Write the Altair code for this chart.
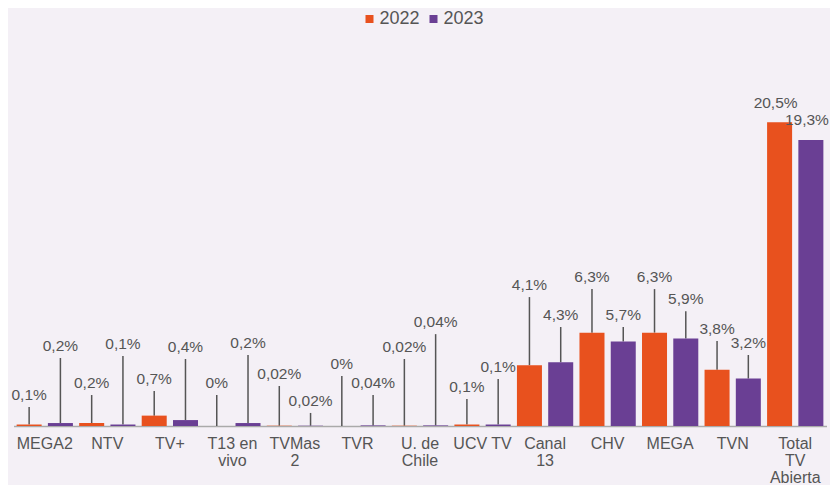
import altair as alt
import pandas as pd

categories = ["MEGA2", "NTV", "TV+", "T13 en|vivo", "TVMas|2", "TVR", "U. de|Chile",
              "UCV TV", "Canal|13", "CHV", "MEGA", "TVN", "Total|TV|Abierta"]
years = ["2022", "2023"]
values_2022 = [0.1, 0.2, 0.7, 0, 0.02, 0, 0.02, 0.1, 4.1, 6.3, 6.3, 3.8, 20.5]
values_2023 = [0.2, 0.1, 0.4, 0.2, 0.02, 0.04, 0.04, 0.1, 4.3, 5.7, 5.9, 3.2, 19.3]
# annotation heights (top of leader lines), in % units
label_top_2022 = [1.28, 2.09, 2.36, 2.09, 2.70, 3.37, 4.52, 1.82, 8.70, 9.24, 9.24, 5.73, 21.0]
label_top_2023 = [4.59, 4.72, 4.52, 4.79, 0.88, 2.09, 6.20, 3.17, 6.68, 6.68, 7.75, 4.79, 19.87]
colors = ["#E8511E", "#6A3F94"]


def fmt(v):
    return f"{v:g}".replace(".", ",") + "%"


rows = []
for yr, vals, tops in [("2022", values_2022, label_top_2022), ("2023", values_2023, label_top_2023)]:
    for c, v, t in zip(categories, vals, tops):
        rows.append({"category": c, "year": yr, "value": v, "label_top": t,
                     "label": fmt(v), "leader": not c.startswith("Total")})
df = pd.DataFrame(rows)

x = alt.X("category:N", sort=categories,
          scale=alt.Scale(paddingInner=0, paddingOuter=0),
          axis=alt.Axis(title=None, labelAngle=0, ticks=False, domainColor="#AAAAAA",
                        domainWidth=1.5, labelFontSize=16, labelColor="#555555",
                        labelFont="Liberation Sans", labelPadding=9,
                        labelExpr="split(datum.label, '|')", labelLineHeight=17))
xo = alt.XOffset("year:N", sort=years, scale=alt.Scale(paddingInner=0.2, paddingOuter=0.1))
y_scale = alt.Scale(domain=[0, 22], nice=False)

base = alt.Chart(df)

bars = base.mark_bar().encode(
    x=x, xOffset=xo,
    y=alt.Y("value:Q", scale=y_scale, axis=None),
    color=alt.Color("year:N", sort=years,
                    scale=alt.Scale(domain=years, range=colors),
                    legend=alt.Legend(title=None, orient="none", direction="horizontal",
                                      legendX=347, legendY=-90, symbolType="square",
                                      symbolSize=64, symbolStrokeWidth=0,
                                      labelFontSize=18, labelColor="#555555",
                                      labelFont="Liberation Sans", columnPadding=4,
                                      labelOffset=1)),
)

rules = base.transform_filter("datum.leader").mark_rule(color="#555555", strokeWidth=1.5).encode(
    x=x, xOffset=xo,
    y=alt.Y("value:Q", scale=y_scale, axis=None),
    y2="label_top:Q",
)

text_kw = dict(fontSize=15.5, color="#555555", font="Liberation Sans",
               baseline="alphabetic", dy=-7)
text_enc = dict(x=x, xOffset=xo,
                y=alt.Y("label_top:Q", scale=y_scale, axis=None),
                text="label:N")

texts = base.transform_filter("datum.leader").mark_text(**text_kw).encode(**text_enc)
texts_total = base.transform_filter("!datum.leader").mark_text(dx=-4, **text_kw).encode(**text_enc)

chart = alt.layer(rules, bars, texts, texts_total).properties(
    width=813, height=326,
    autosize=alt.AutoSizeParams(type="none"),
    padding={"left": 5.5, "top": 92, "right": 3.5, "bottom": 59},
    background="#F4F0F6",
).configure_view(stroke=None)

chart.save("out.html", embed_options={"renderer": "svg", "actions": False})
